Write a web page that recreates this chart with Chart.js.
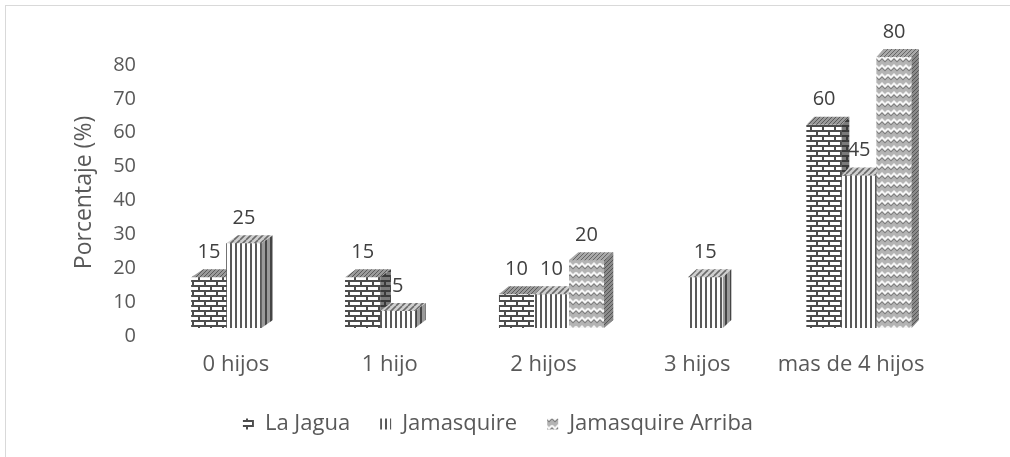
<!DOCTYPE html>
<html><head><meta charset="utf-8">
<script src="https://cdn.jsdelivr.net/npm/chart.js@4.4.0/dist/chart.umd.min.js"></script>
<style>
html,body{margin:0;padding:0;background:#fff;overflow:hidden}
#wrap{position:relative;width:1010px;height:457px;overflow:hidden}
#frame{position:absolute;left:5px;top:5px;width:1100px;height:600px;border-left:1px solid #d9d9d9;border-top:1px solid #d9d9d9}
canvas{position:absolute;left:0;top:0}
</style></head><body>
<div id="wrap"><div id="frame"></div><canvas id="c" width="1010" height="457"></canvas></div>
<script>
const categories = ['0 hijos','1 hijo','2 hijos','3 hijos','mas de 4 hijos'];
const laJagua = [15,15,10,0,60];
const jamasquire = [25,5,10,15,45];
const jamasquireArriba = [0,0,20,0,80];
const seriesNames = ['La Jagua','Jamasquire','Jamasquire Arriba'];
const yTickValues = [0,10,20,30,40,50,60,70,80];

function tile(w,h,draw){
  const c=document.createElement('canvas');c.width=w;c.height=h;
  const g=c.getContext('2d');draw(g,w,h);
  return document.createElement('canvas').getContext('2d').createPattern(c,'repeat');
}
function brick(bg,fg){return tile(12,10,(g,w,h)=>{g.fillStyle=bg;g.fillRect(0,0,w,h);g.fillStyle=fg;
  g.fillRect(0,0,w,2);g.fillRect(0,5,w,2);g.fillRect(0,0,2,5);g.fillRect(6,5,2,5);});}
function vstripe(bg,fg){return tile(5,4,(g,w,h)=>{g.fillStyle=bg;g.fillRect(0,0,w,h);g.fillStyle=fg;g.fillRect(0,0,2,h);});}
function dstripe(bg,fg){return tile(6,6,(g,w,h)=>{g.fillStyle=bg;g.fillRect(0,0,w,h);g.strokeStyle=fg;g.lineWidth=1.6;
  for(let k=-1;k<=1;k++){g.beginPath();g.moveTo(k*6,h);g.lineTo(k*6+6,0);g.stroke();}});}
function zigzag(bg,fg,fg2){return tile(12,9,(g,w,h)=>{g.fillStyle=bg;g.fillRect(0,0,w,h);
  g.lineWidth=1.5;g.strokeStyle=fg2;g.beginPath();g.moveTo(0,4.5);g.lineTo(3,7.5);g.lineTo(6,4.5);g.lineTo(9,7.5);g.lineTo(12,4.5);g.stroke();
  g.lineWidth=2;g.strokeStyle=fg;g.beginPath();g.moveTo(0,2.5);g.lineTo(3,5.5);g.lineTo(6,2.5);g.lineTo(9,5.5);g.lineTo(12,2.5);g.stroke();});}
function speckle(bg,fg){return tile(4,4,(g,w,h)=>{g.fillStyle=bg;g.fillRect(0,0,w,h);g.fillStyle=fg;g.fillRect(0,0,1,1);g.fillRect(2,2,1,1);g.fillRect(1,3,1,1);g.fillRect(3,1,1,1);});}

const fronts=[brick('#ffffff','#4d4d4d'),vstripe('#ffffff','#5a5a5a'),zigzag('#b4b4b4','#f6f6f6','#7c7c7c')];
const tops=[speckle('#9a9a9a','#5a5a5a'),dstripe('#d0d0d0','#6a6a6a'),speckle('#a8a8a8','#666666')];
const sides=[brick('#7a7a7a','#3a3a3a'),vstripe('#9a9a9a','#454545'),speckle('#8a8a8a','#555555')];

const TXT='#595959';
const FONT='"Open Sans", sans-serif';

const bar3d={
  id:'bar3d',
  afterDatasetsDraw(chart){
    const ctx=chart.ctx, area=chart.chartArea;
    const metas=chart.data.datasets.map((d,i)=>chart.getDatasetMeta(i));
    const labels=[];
    for(let c=0;c<categories.length;c++){
      for(let d=0;d<metas.length;d++){
        const v=chart.data.datasets[d].data[c];
        if(!v) continue;
        const el=metas[d].data[c];
        const {x,y,base,width}=el.getProps(['x','y','base','width'],true);
        const l=x-width/2,r=x+width/2;
        const t=(x-area.left)/(area.right-area.left);
        const dx=12-5*t, dy=8;
        el.draw(ctx);
        ctx.save();
        ctx.beginPath();ctx.moveTo(l,y);ctx.lineTo(r,y);ctx.lineTo(r+dx,y-dy);ctx.lineTo(l+dx,y-dy);ctx.closePath();
        ctx.fillStyle=tops[d];ctx.fill();
        ctx.beginPath();ctx.moveTo(r,y);ctx.lineTo(r+dx,y-dy);ctx.lineTo(r+dx,base-dy);ctx.lineTo(r,base);ctx.closePath();
        ctx.fillStyle=sides[d];ctx.fill();
        ctx.restore();
        labels.push([String(v),x,y-dy-17]);
      }
    }
    ctx.save();
    ctx.font='20px '+FONT;ctx.fillStyle='#404040';ctx.textAlign='center';ctx.textBaseline='middle';
    labels.forEach(([s,x,y])=>ctx.fillText(s,x,y));
    ctx.restore();
  }
};

new Chart(document.getElementById('c'),{
  type:'bar',
  data:{labels:categories,datasets:[
    {label:seriesNames[0],data:laJagua,backgroundColor:fronts[0],borderWidth:0},
    {label:seriesNames[1],data:jamasquire,backgroundColor:fronts[1],borderWidth:0},
    {label:seriesNames[2],data:jamasquireArriba,backgroundColor:fronts[2],borderWidth:0}
  ]},
  options:{
    responsive:false,animation:false,
    categoryPercentage:0.683,barPercentage:1.0,
    layout:{padding:{top:57,left:60,right:74,bottom:12}},
    plugins:{
      tooltip:{enabled:false},
      legend:{position:'bottom',labels:{color:TXT,font:{family:FONT,size:22},boxWidth:11,boxHeight:11,padding:30}}
    },
    scales:{
      x:{grid:{display:false,drawTicks:false},border:{display:false},
         afterFit:(s)=>{s.height=55;},
         ticks:{color:TXT,font:{family:FONT,size:22},padding:24,labelOffset:-8,autoSkip:false,maxRotation:0,minRotation:0}},
      y:{min:0,max:80,grid:{display:false,drawTicks:false},border:{display:false},
         afterBuildTicks:(s)=>{s.ticks=yTickValues.map(v=>({value:v}));},
         afterFit:(s)=>{s.width=107;},
         ticks:{color:TXT,font:{family:FONT,size:20},padding:31,labelOffset:8},
         title:{display:true,text:'Porcentaje (%)',color:TXT,font:{family:FONT,size:23},padding:{top:11,bottom:0}}}
    }
  },
  plugins:[bar3d]
});
</script>
</body></html>
